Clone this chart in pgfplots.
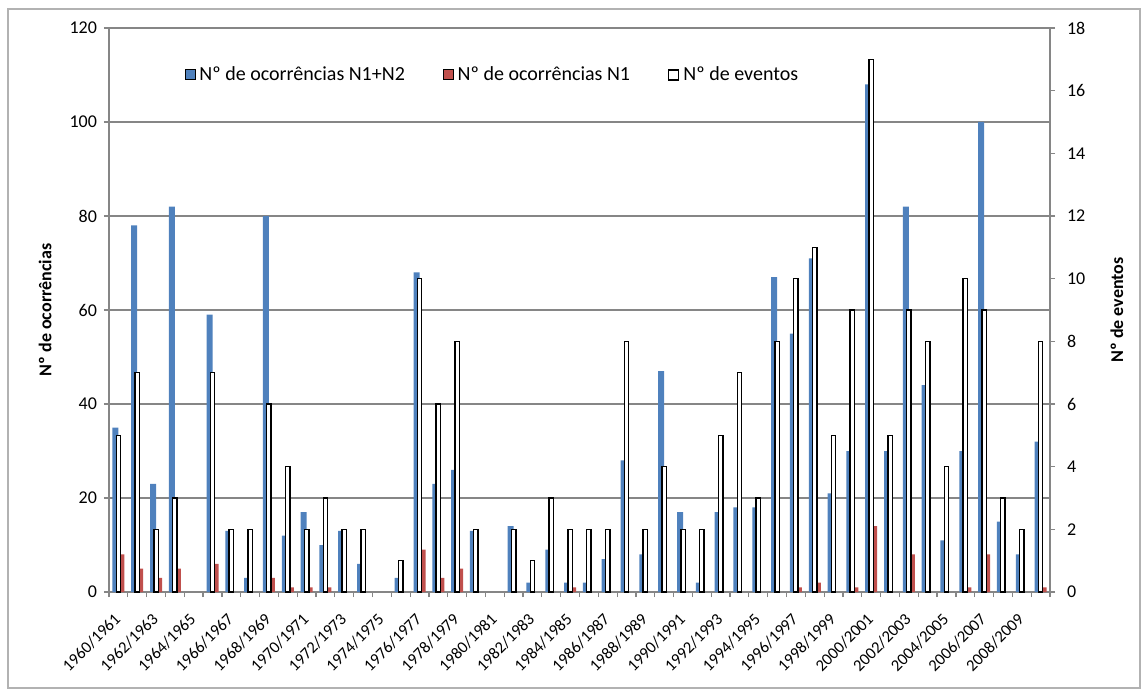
\documentclass[border=0pt]{standalone}
\usepackage{fontspec}
\setmainfont{Carlito}
\usepackage{pgfplots}
\pgfplotsset{compat=1.18}
\definecolor{azul}{HTML}{4F81BD}
\definecolor{verm}{HTML}{C0504D}
\definecolor{grelha}{HTML}{868686}

% N1+N2
\pgfplotstableread{
x y
0 35
1 78
2 23
3 82
5 59
6 13
7 3
8 80
9 12
10 17
11 10
12 13
13 6
15 3
16 68
17 23
18 26
19 13
21 14
22 2
23 9
24 2
25 2
26 7
27 28
28 8
29 47
30 17
31 2
32 17
33 18
34 18
35 67
36 55
37 71
38 21
39 30
40 108
41 30
42 82
43 44
44 11
45 30
46 100
47 15
48 8
49 32
}\totais
% N1
\pgfplotstableread{
x y
0 8
1 5
2 3
3 5
5 6
8 3
9 1
10 1
11 1
16 9
17 3
18 5
24 1
36 1
37 2
39 1
40 14
42 8
45 1
46 8
49 1
}\nivelum
% eventos
\pgfplotstableread{
x y
0 5
1 7
2 2
3 3
5 7
6 2
7 2
8 6
9 4
10 2
11 3
12 2
13 2
15 1
16 10
17 6
18 8
19 2
21 2
22 1
23 3
24 2
25 2
26 2
27 8
28 2
29 4
30 2
31 2
32 5
33 7
34 3
35 8
36 10
37 11
38 5
39 9
40 17
41 5
42 9
43 8
44 4
45 10
46 9
47 3
48 2
49 8
}\eventos

\pgfplotsset{
  base/.style={
    scale only axis, width=470.5pt, height=282pt,
    xmin=-0.5, xmax=49.5,
    tick align=outside, major tick length=2.5pt,
    tick style={grelha, line width=0.6pt},
    axis line style={grelha, line width=0.6pt},
    /pgf/number format/assume math mode=true,
    tick label style={font=\fontsize{9}{11}\selectfont, black},
    label style={font=\fontsize{9}{11}\selectfont\bfseries},
  },
}

\begin{document}
\begin{tikzpicture}
\begin{axis}[base, name=main,
  ymin=0, ymax=120, ytick={0,20,...,120},
  axis x line*=bottom, axis y line*=left,
  ymajorgrids, grid style={grelha, line width=0.6pt},
  xtick={-0.5,0.5,...,49.5}, xticklabels={},
  extra x ticks={0,2,...,48},
  extra x tick labels={1960/1961,1962/1963,1964/1965,1966/1967,1968/1969,1970/1971,1972/1973,1974/1975,1976/1977,1978/1979,1980/1981,1982/1983,1984/1985,1986/1987,1988/1989,1990/1991,1992/1993,1994/1995,1996/1997,1998/1999,2000/2001,2002/2003,2004/2005,2006/2007,2008/2009},
  extra x tick style={major tick length=0pt, grid=none,
    tick label style={font=\fontsize{8.3}{10}\selectfont, anchor=north east, inner sep=1pt, xshift=-2.6pt, yshift=-8.3pt, rotate=45}},
  ylabel={Nº de ocorrências},
  ylabel style={at={(axis description cs:-0.068,0.5)}, anchor=center},
  ybar=0pt, bar width=3pt,
  legend columns=3,
  legend image code/.code={\draw[#1] (0pt,-2.5pt) rectangle (5pt,2.5pt);},
  legend style={draw=none, fill=none, at={(0.08,0.917)}, anchor=west,
    font=\fontsize{10}{12}\selectfont, inner sep=0pt,
    /tikz/every even column/.append style={column sep=17pt}},
]
\addplot[draw=none, fill=azul] table[x=x, y=y] {\totais};
\addplot[draw=none, fill=verm] table[x=x, y=y] {\nivelum};
\addlegendimage{draw=black, fill=white, line width=0.7pt}
\legend{Nº de ocorrências N1+N2, Nº de ocorrências N1, Nº de eventos}
\end{axis}
\begin{axis}[base,
  ymin=0, ymax=18, ytick={0,2,...,18},
  axis y line*=right, axis x line=none,
  yticklabel style={xshift=2.5pt},
  ylabel={Nº de eventos},
  ylabel style={at={(axis description cs:1.071,0.5)}, anchor=center},
  ybar, bar width=2.2pt,
]
\addplot[draw=black, fill=white, line width=0.7pt] table[x=x, y=y] {\eventos};
\end{axis}
\pgfresetboundingbox
\path[use as bounding box] ([shift={(-54.5pt,-49.5pt)}]main.south west) rectangle ([shift={(48pt,14pt)}]main.north east);
\draw[gray!60, line width=0.7pt] ([shift={(-50.5pt,-48pt)}]main.south west) rectangle ([shift={(45pt,9.5pt)}]main.north east);
\end{tikzpicture}
\end{document}
